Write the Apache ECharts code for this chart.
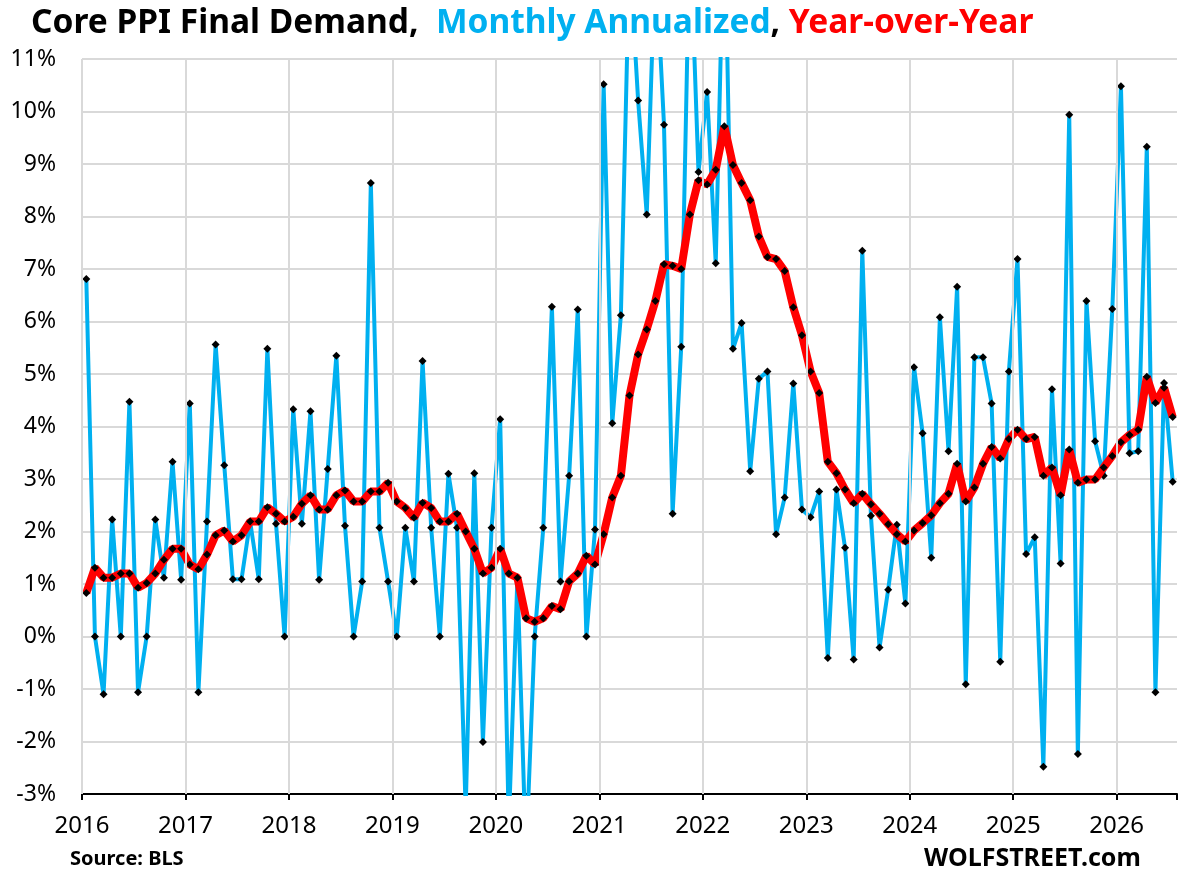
<!DOCTYPE html>
<html>
<head>
<meta charset="utf-8">
<title>Core PPI Final Demand</title>
<script src="https://cdn.jsdelivr.net/npm/echarts@6/dist/echarts.min.js"></script>
<style>
  html, body { margin: 0; padding: 0; background: #fff; }
  #main { width: 1192px; height: 879px; }
</style>
</head>
<body>
<div id="main"></div>
<script>
// monthly data, Jan 2016 .. Jul 2026
var startYear = 2016;
var yearTicks = [2016, 2017, 2018, 2019, 2020, 2021, 2022, 2023, 2024, 2025, 2026];

// month-to-month change, annualized (%)
var monthly = [
  6.81, 0.00, -1.10, 2.23, 0.00, 4.47, -1.06, 0.00, 2.23, 1.12, 3.33, 1.08,
  4.44, -1.06, 2.19, 5.56, 3.26, 1.09, 1.09, 2.19, 1.09, 5.48, 2.15, 0.00,
  4.33, 2.15, 4.29, 1.08, 3.19, 5.35, 2.11, 0.00, 1.05, 8.64, 2.07, 1.05,
  0.00, 2.07, 1.05, 5.25, 2.07, 0.00, 3.10, 2.07, -3.30, 3.11, -2.01, 2.07,
  4.14, -3.60, 1.12, -4.20, 0.00, 2.07, 6.28, 1.05, 3.06, 6.23, 0.00, 2.04,
  10.52, 4.06, 6.12, 13.00, 10.21, 8.04, 13.00, 9.75, 2.34, 5.52, 13.50, 8.85,
  10.37, 7.11, 14.00, 5.48, 5.97, 3.15, 4.91, 5.05, 1.95, 2.65, 4.82, 2.42,
  2.27, 2.76, -0.41, 2.80, 1.69, -0.44, 7.35, 2.30, -0.21, 0.89, 2.13, 0.63,
  5.13, 3.87, 1.50, 6.08, 3.53, 6.66, -0.91, 5.32, 5.32, 4.44, -0.48, 5.05,
  7.19, 1.57, 1.89, -2.48, 4.71, 1.39, 9.94, -2.24, 6.39, 3.72, 3.06, 6.24,
  10.48, 3.49, 3.53, 9.33, -1.06, 4.83, 2.95
];

// year-over-year change (%)
var yoy = [
  0.83, 1.31, 1.12, 1.12, 1.20, 1.20, 0.93, 1.02, 1.20, 1.46, 1.67, 1.67,
  1.37, 1.28, 1.56, 1.93, 2.02, 1.81, 1.93, 2.19, 2.19, 2.46, 2.34, 2.19,
  2.28, 2.53, 2.69, 2.42, 2.42, 2.69, 2.78, 2.57, 2.57, 2.76, 2.76, 2.93,
  2.57, 2.45, 2.26, 2.55, 2.45, 2.19, 2.19, 2.34, 2.00, 1.67, 1.20, 1.31,
  1.67, 1.20, 1.12, 0.35, 0.28, 0.35, 0.58, 0.52, 1.05, 1.20, 1.54, 1.37,
  1.95, 2.65, 3.06, 4.59, 5.37, 5.85, 6.39, 7.09, 7.06, 7.00, 8.04, 8.69,
  8.61, 8.89, 9.72, 8.98, 8.64, 8.31, 7.62, 7.23, 7.19, 6.96, 6.27, 5.74,
  5.05, 4.64, 3.33, 3.11, 2.80, 2.54, 2.72, 2.52, 2.34, 2.14, 1.95, 1.81,
  2.02, 2.16, 2.31, 2.54, 2.72, 3.29, 2.57, 2.84, 3.29, 3.61, 3.39, 3.76,
  3.94, 3.76, 3.80, 3.06, 3.22, 2.69, 3.56, 2.93, 2.99, 2.99, 3.22, 3.44,
  3.70, 3.84, 3.94, 4.95, 4.45, 4.74, 4.18
];

var font = 'Noto Sans';

// each month sits in the middle of its slot
function toPairs(values) {
  return values.map(function (v, i) {
    return [startYear + (i + 0.5) / 12, v];
  });
}

// axis ends at the close of the last month
var xMax = startYear + monthly.length / 12;

var myChart = echarts.init(document.getElementById('main'));

var option = {
  backgroundColor: '#fff',
  animation: false,
  title: {
    left: 26,
    top: 1,
    text: '{a|Core PPI Final Demand,  }{b|Monthly Annualized}{a|, }{c|Year-over-Year}',
    textStyle: {
      rich: {
        a: { color: '#000', fontSize: 33.5, fontWeight: 'bold', fontFamily: font },
        b: { color: '#00B0F0', fontSize: 33.5, fontWeight: 'bold', fontFamily: font },
        c: { color: '#FF0000', fontSize: 33.5, fontWeight: 'bold', fontFamily: font }
      }
    }
  },
  grid: { left: 82, right: 15, top: 59, bottom: 85, containLabel: false },
  xAxis: [
    {
      type: 'value',
      min: startYear,
      max: xMax,
      interval: 1,
      axisLine: { show: false },
      axisTick: { show: false },
      splitLine: { show: false },
      axisLabel: {
        color: '#000',
        fontSize: 24,
        fontFamily: font,
        margin: 20,
        showMaxLabel: false,
        formatter: function (v) { return v % 1 === 0 ? String(v) : ''; }
      }
    },
    {
      // zero line with year ticks
      type: 'value',
      min: startYear,
      max: xMax,
      interval: 1,
      position: 'bottom',
      axisLine: { onZero: true, lineStyle: { color: '#000', width: 2 } },
      axisTick: { show: true, length: 6, lineStyle: { color: '#000', width: 2 } },
      axisLabel: { show: false },
      splitLine: { show: false }
    }
  ],
  yAxis: {
    type: 'value',
    min: -3,
    max: 11,
    interval: 1,
    axisLine: { show: false },
    axisTick: { show: false },
    splitLine: { lineStyle: { color: '#d9d9d9', width: 2 } },
    axisLabel: {
      color: '#000',
      fontSize: 23,
      fontFamily: font,
      margin: 26,
      formatter: '{value}%'
    }
  },
  series: [
    {
      // vertical year gridlines
      type: 'line',
      data: [],
      z: 1,
      silent: true,
      markLine: {
        silent: true,
        symbol: ['none', 'none'],
        label: { show: false },
        lineStyle: { color: '#d9d9d9', width: 2, type: 'solid' },
        data: yearTicks.map(function (y) { return { xAxis: y }; })
      }
    },
    {
      name: 'Monthly Annualized',
      type: 'line',
      data: toPairs(monthly),
      z: 3,
      symbol: 'diamond',
      symbolSize: 8,
      showAllSymbol: true,
      lineStyle: { color: '#00B0F0', width: 4 },
      itemStyle: { color: '#000' }
    },
    {
      name: 'Year-over-Year',
      type: 'line',
      data: toPairs(yoy),
      z: 4,
      symbol: 'diamond',
      symbolSize: 8,
      showAllSymbol: true,
      lineStyle: { color: '#FF0000', width: 8 },
      itemStyle: { color: '#000' }
    }
  ],
  graphic: [
    {
      type: 'text',
      left: 70,
      top: 849,
      style: { text: 'Source: BLS', fill: '#000', font: 'bold 20px "Noto Sans"' }
    },
    {
      type: 'text',
      left: 924,
      top: 846,
      style: { text: 'WOLFSTREET.com', fill: '#000', font: 'bold 25px "Noto Sans"' }
    }
  ]
};
myChart.setOption(option);
</script>
</body>
</html>
